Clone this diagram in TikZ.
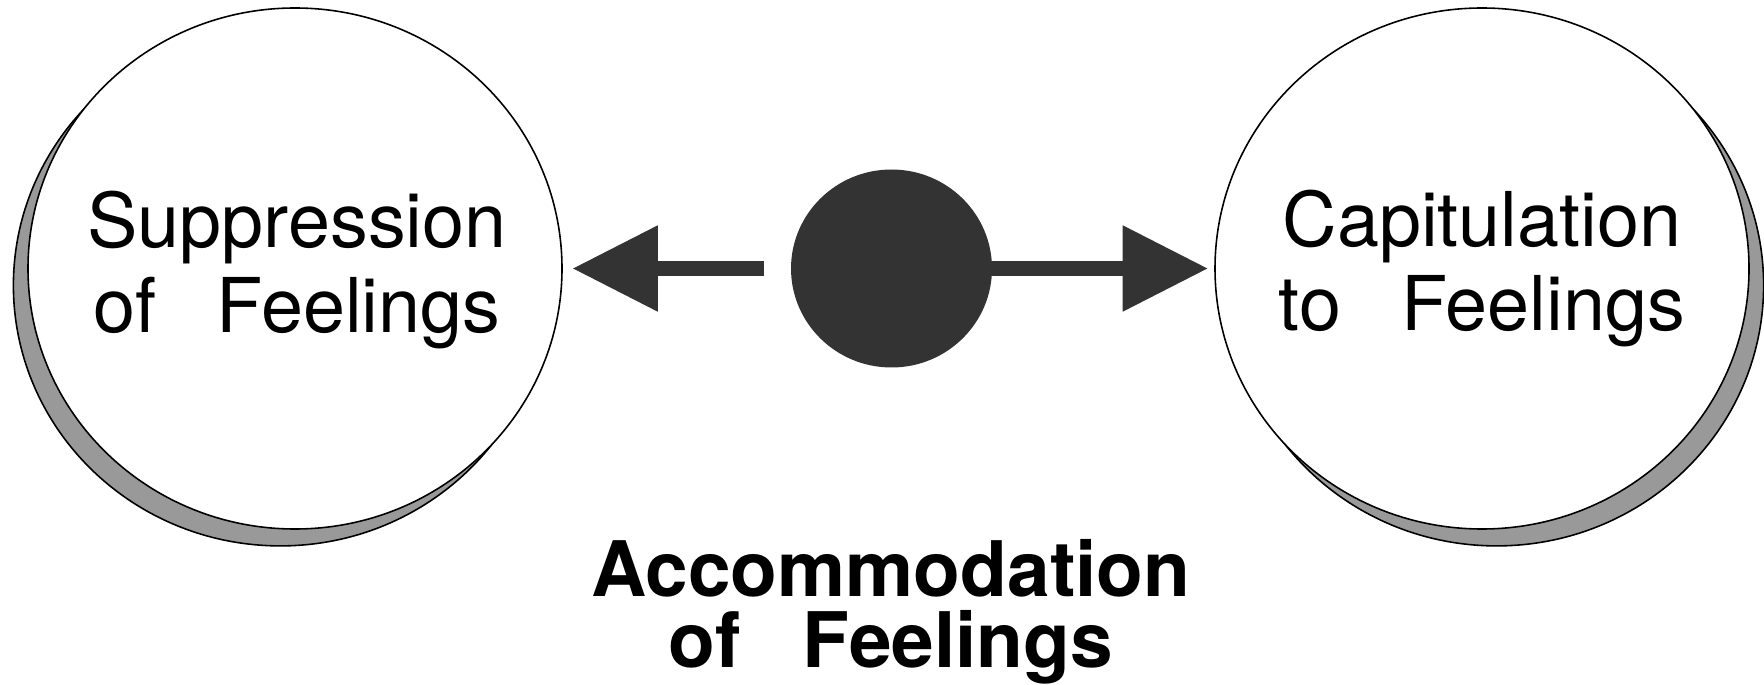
\documentclass[tikz,border=0pt]{standalone}
\usepackage{fontspec}
\setmainfont{TeX Gyre Heros}
\usetikzlibrary{shapes.geometric,arrows.meta}
\definecolor{darkfill}{HTML}{333333}
\definecolor{shadowgray}{HTML}{999999}
\tikzset{
  bigell/.style={ellipse, draw=black, line width=0.45pt, fill=white, inner sep=0pt,
    minimum width=5.34cm, minimum height=5.21cm},
  shadowell/.style={ellipse, draw=black, line width=0.45pt, fill=shadowgray, inner sep=0pt,
    minimum width=5.34cm, minimum height=5.21cm},
  ringtext/.style={inner sep=0pt, align=center, font=\fontsize{21.5}{24}\selectfont},
  midell/.style={ellipse, fill=darkfill, inner sep=0pt, minimum width=2.01cm, minimum height=1.98cm},
  blockarrow/.style={draw=darkfill, line width=0.153cm,
    -{Triangle[length=0.855cm,width=0.82cm]}},
  bottomtext/.style={anchor=base, inner sep=0pt, font=\fontsize{21.8}{22}\selectfont\bfseries}
}
\begin{document}
\begin{tikzpicture}
\useasboundingbox (0,0) rectangle (17.64,6.84);
% shadows
\node[shadowell] (lsh) at (2.804,3.986) {};
\node[shadowell] (rsh) at (14.966,3.986) {};
% front circles
\node[bigell] (left) at (2.95,4.155) {};
\node[bigell] (right) at (14.82,4.155) {};
\node[ringtext] (ltext) at (2.97,4.14) {Suppression\\of\hspace{0.8em}Feelings};
\node[ringtext] (rtext) at (right.center) {Capitulation\\to\hspace{0.8em}Feelings};
% middle dot
\node[midell] (mid) at (8.915,4.155) {};
% arrows
\draw[blockarrow, shorten <=0.26cm, shorten >=0.095cm] (mid.west) -- (left.east);
\draw[blockarrow, shorten >=0.06cm] (mid.center) -- (right.west);
% bottom label
\node[bottomtext] (acc1) at (8.91,0.8775) {Accommodation};
\node[bottomtext] (acc2) at (8.91,0.17) {of\hspace{0.8em}Feelings};
\end{tikzpicture}
\end{document}
